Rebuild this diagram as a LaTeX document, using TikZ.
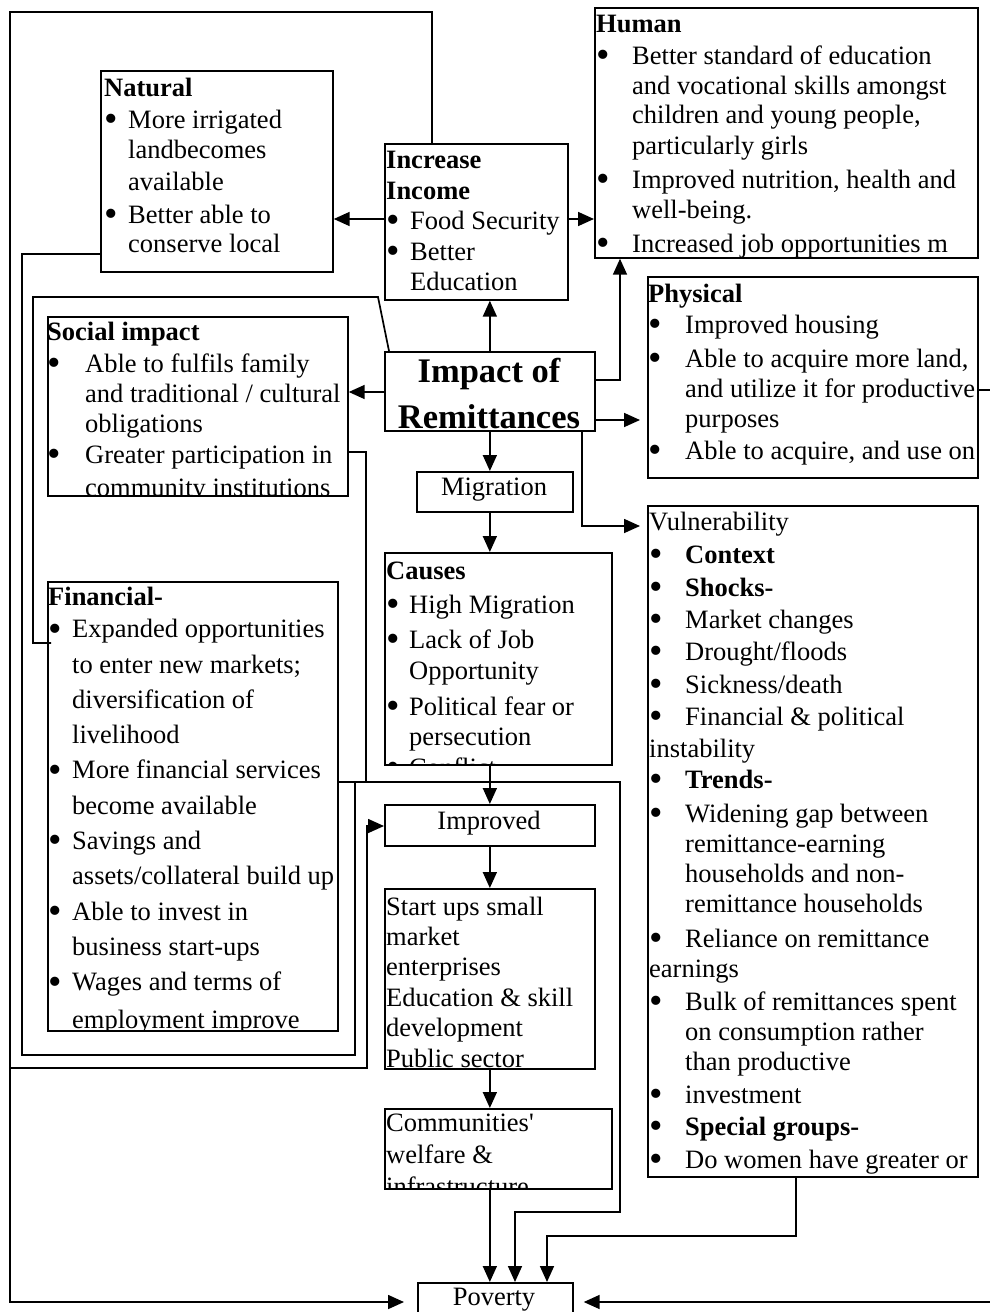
\documentclass[tikz,border=0pt]{standalone}
\usepackage{fontspec}
\usepackage{graphicx}
\setmainfont{Liberation Serif}
\usetikzlibrary{arrows.meta}
\newcommand{\mydot}{\raisebox{-0.13em}{\scalebox{1.45}{\textbullet}}}
\newcommand{\myb}[1][24pt]{\makebox[#1][l]{\mydot}}
\newcommand{\myi}[1][24pt]{\hspace*{#1}}
\begin{document}
\begin{tikzpicture}[x=1pt,y=-1pt,
  box/.style={draw, line width=1.7pt, inner sep=0pt, anchor=north west},
  con/.style={line width=1.7pt},
  arr/.style={line width=1.7pt, -{Triangle[length=16pt,width=14pt]}},
  txt/.style={anchor=base west, inner sep=0pt, align=left, font=\fontsize{26.5}{30}\selectfont},
  ctxt/.style={anchor=base, inner sep=0pt, align=center, font=\fontsize{26.5}{30}\selectfont},
]
\useasboundingbox (0,0) rectangle (990,1312);
\fill[white] (0,0) rectangle (990,1312);

% ---------- boxes ----------
\node[box,minimum width=232pt,minimum height=201pt] (nat) at (100,70) {};
\node[box,minimum width=183pt,minimum height=156pt] (inc) at (384,143) {};
\node[box,minimum width=383pt,minimum height=250pt] (hum) at (594,7) {};
\node[box,minimum width=330pt,minimum height=201pt] (phy) at (647,276) {};
\node[box,minimum width=300pt,minimum height=179pt] (soc) at (47,316) {};
\node[box,minimum width=210pt,minimum height=79pt] (imp) at (384,351) {};
\node[box,minimum width=156pt,minimum height=40pt] (mig) at (416,471) {};
\node[box,minimum width=227pt,minimum height=212pt] (cau) at (384,552) {};
\node[box,minimum width=290pt,minimum height=449pt] (fin) at (47,581) {};
\node[box,minimum width=330pt,minimum height=671pt] (vul) at (647,505) {};
\node[box,minimum width=210pt,minimum height=41pt] (imv) at (384,804) {};
\node[box,minimum width=210pt,minimum height=180pt] (stu) at (384,888) {};
\node[box,minimum width=227pt,minimum height=80pt] (com) at (384,1108) {};
\node[box,minimum width=155pt,minimum height=48pt] (pov) at (417,1282) {};

% ---------- texts (anchored at the baseline of their last line, clipped to their boxes) ----------
\begin{scope}
\clip (nat.north west) rectangle (nat.south east);
\node[txt] (natT) at (104,252) {\textbf{Natural}\\[2pt]
\myb More irrigated\\
\myi landbecomes\\[2pt]
\myi available\\[3pt]
\myb Better able to\\[-1pt]
\myi conserve local};
\end{scope}

\begin{scope}
\clip (inc.north west) rectangle (inc.south east);
\node[txt] (incT) at (386,290) {\textbf{Increase}\\[1pt]
\textbf{Income}\\
\myb Food Security\\[1pt]
\myb Better\\
\myi Education};
\end{scope}

\begin{scope}
\clip (hum.north west) rectangle (hum.south east);
\node[txt] (humT) at (596,252) {\textbf{Human}\\[2pt]
\myb[36pt]Better standard of education\\
\myi[36pt]and vocational skills amongst\\[-1pt]
\myi[36pt]children and young people,\\[1pt]
\myi[36pt]particularly girls\\[4pt]
\myb[36pt]Improved nutrition, health and\\
\myi[36pt]well-being.\\[4pt]
\myb[36pt]Increased job opportunities m};
\end{scope}

\begin{scope}
\clip (phy.north west) rectangle (phy.south east);
\node[txt] (phyT) at (648,459) {\textbf{Physical}\\[1pt]
\myb[37pt]Improved housing\\[4pt]
\myb[37pt]Able to acquire more land,\\
\myi[37pt]and utilize it for productive\\
\myi[37pt]purposes\\[2pt]
\myb[37pt]Able to acquire, and use on};
\end{scope}

\begin{scope}
\clip (soc.north west) rectangle (soc.south east);
\node[txt] (socT) at (47,496) {\textbf{Social impact}\\[2pt]
\myb[38pt]Able to fulfils family\\
\myi[38pt]and traditional / cultural\\
\myi[38pt]obligations\\[1pt]
\myb[38pt]Greater participation in\\[3pt]
\myi[38pt]community institutions};
\end{scope}

\begin{scope}
\clip (imp.north west) rectangle (imp.south east);
\node[ctxt, font=\fontsize{34.5}{46}\selectfont\bfseries] (impT) at (489,428) {Impact of\\Remittances};
\end{scope}

\node[ctxt] (migT) at (494,495) {Migration};

\begin{scope}
\clip (cau.north west) rectangle (cau.south east);
\node[txt] (cauT) at (386,776) {\textbf{Causes}\\[4pt]
\myb[23pt]High Migration\\[5pt]
\myb[23pt]Lack of Job\\[1pt]
\myi[23pt]Opportunity\\[6pt]
\myb[23pt]Political fear or\\
\myi[23pt]persecution\\[1pt]
\myb[23pt]Conflict};
\end{scope}

\begin{scope}
\clip (fin.north west) rectangle (fin.south east);
\node[txt, font=\fontsize{26.5}{35.3}\selectfont] (finT) at (48,1028) {\textbf{Financial-}\\[-3pt]
\myb Expanded opportunities\\
\myi to enter new markets;\\
\myi diversification of\\
\myi livelihood\\
\myb More financial services\\
\myi become available\\
\myb Savings and\\
\myi assets/collateral build up\\
\myb Able to invest in\\
\myi business start-ups\\
\myb Wages and terms of\\[2pt]
\myi employment improve};
\end{scope}

\begin{scope}
\clip (vul.north west) rectangle (vul.south east);
\node[txt] (vulT) at (649,1168) {Vulnerability\\[3pt]
\myb[36pt]\textbf{Context}\\[3pt]
\myb[36pt]\textbf{Shocks-}\\[2pt]
\myb[36pt]Market changes\\[2pt]
\myb[36pt]Drought/floods\\[3pt]
\myb[36pt]Sickness/death\\[2pt]
\myb[36pt]Financial \& political\\[2pt]
instability\\[1pt]
\myb[36pt]\textbf{Trends-}\\[4pt]
\myb[36pt]Widening gap between\\
\myi[36pt]remittance-earning\\
\myi[36pt]households and non-\\
\myi[36pt]remittance households\\[5pt]
\myb[36pt]Reliance on remittance\\
earnings\\[3pt]
\myb[36pt]Bulk of remittances spent\\
\myi[36pt]on consumption rather\\
\myi[36pt]than productive\\[3pt]
\myb[36pt]investment\\[2pt]
\myb[36pt]\textbf{Special groups-}\\[3pt]
\myb[36pt]Do women have greater or};
\end{scope}

\node[ctxt] (imvT) at (489,829) {Improved};

\begin{scope}
\clip (stu.north west) rectangle (stu.south east);
\node[txt, font=\fontsize{26.5}{30.4}\selectfont] (stuT) at (386,1067) {Start ups small\\
market\\
enterprises\\
Education \& skill\\
development\\
Public sector};
\end{scope}

\begin{scope}
\clip (com.north west) rectangle (com.south east);
\node[txt, font=\fontsize{26.5}{32}\selectfont] (comT) at (386,1195) {Communities\textquotesingle\\
welfare \&\\
infrastructure};
\end{scope}

\node[ctxt] (povT) at (494,1305) {Poverty};

% ---------- connectors ----------
\coordinate (j1) at (10,1068);
\draw[arr] (imp.north) -- (imp.north |- inc.south);
\draw[arr] (inc.west |- 0,219) -- (nat.east |- 0,219);
\draw[arr] (inc.east |- 0,219) -- (hum.west |- 0,219);
\draw[arr] (imp.east |- 0,380) -| (hum.south -| 620,0);
\draw[arr, shorten >=7pt] (imp.east |- 0,420) -- (phy.west |- 0,420);
\draw[arr, shorten >=7pt] (imp.south -| 582,0) |- (vul.west |- 0,526);
\draw[arr] (imp.west |- 0,392) -- (soc.east |- 0,392);
\draw[arr] (imp.south) -- (imp.south |- mig.north);
\draw[arr] (imp.south |- mig.south) -- (imp.south |- cau.north);
\draw[arr] (imp.south |- cau.south) -- (imp.south |- imv.north);
\draw[arr] (imv.south) -- (imv.south |- stu.north);
\draw[arr] (stu.south) -- (stu.south |- com.north);
\draw[arr] (stu.south |- com.south) -- (stu.south |- pov.north);

\draw[arr, shorten >=13pt] (inc.north -| 432,0) -- (432,12) -- (10,12) -- (10,1302) -- (pov.west |- 0,1302);
\draw[arr] (j1) -- (367,1068) -- (367,826) -- (imv.west |- 0,826);
\draw[con] (nat.west |- 0,254) -- (22,254) -- (22,1055) -- (355,1055) -- (355,782);
\draw[con] ([xshift=5pt]imp.north west) -- (378,297) -- (33,297) -- (33,643) -- ([xshift=4pt]fin.west |- 0,643);
\draw[con] (soc.east |- 0,452) -- (366,452) -- (366,782);
\draw[arr] (fin.east |- 0,782) -- (620,782) -- (620,1212) -- (515,1212) -- (515,0 |- pov.north);
\draw[arr] (vul.south -| 796,0) -- (796,1236) -- (547,1236) -- (547,0 |- pov.north);
\draw[arr, shorten >=10pt] (phy.east |- 0,390) -- (1005,390) -- (1005,1302) -- (pov.east |- 0,1302);
\end{tikzpicture}
\end{document}
